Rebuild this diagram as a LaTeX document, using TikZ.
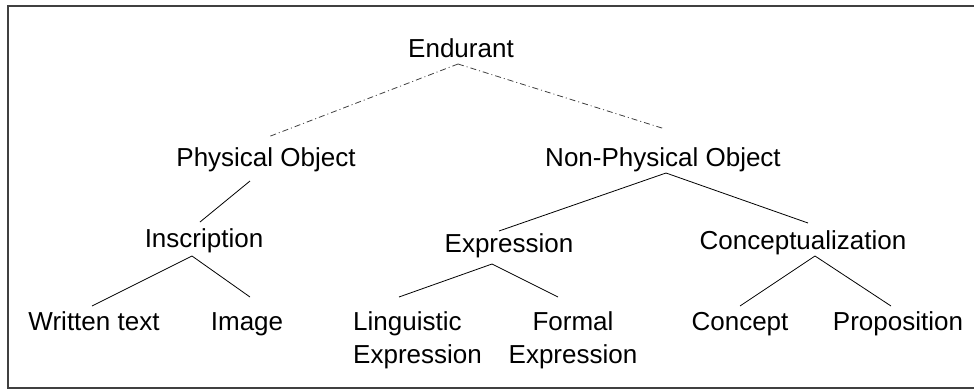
\documentclass[tikz,border=0pt]{standalone}
\usepackage{fontspec}
\setmainfont{Liberation Sans}
\begin{document}
\begin{tikzpicture}[x=1pt,y=-1pt,
  lbl/.style={inner sep=0pt, anchor=base, font=\fontsize{26}{33}\selectfont},
  edge/.style={line width=0.8pt, black},
  dd/.style={line width=0.8pt, black!75, dash pattern=on 6pt off 3pt on 1pt off 3pt}]
\useasboundingbox (0,0) rectangle (974,389);
\draw[line width=1.6pt, black!75] (8,6) rectangle (990,388);
% nodes
\node[lbl] (end) at (461,57) {Endurant};
\node[lbl] (po) at (266,166) {Physical Object};
\node[lbl] (npo) at (663,166) {Non-Physical Object};
\node[lbl] (ins) at (204,247) {Inscription};
\node[lbl] (expr) at (509,252) {Expression};
\node[lbl] (conc) at (803,249) {Conceptualization};
\node[lbl] (wt) at (94,330) {Written text};
\node[lbl] (img) at (247,330) {Image};
\node[lbl, anchor=base west, align=left] (ling) at (353,363) {Linguistic\\Expression};
\node[lbl, align=center] (formal) at (573,363) {Formal\\Expression};
\node[lbl] (concept) at (740,330) {Concept};
\node[lbl] (prop) at (898,330) {Proposition};
% connector endpoints
\coordinate (e-a) at (458,64);
\coordinate (po-t) at (268,137);
\coordinate (npo-t) at (665,129);
\coordinate (po-b) at (250,181);
\coordinate (ins-t) at (200,222);
\coordinate (ins-b) at (192,256);
\coordinate (wt-t) at (92,306);
\coordinate (img-t) at (250,297);
\coordinate (npo-b) at (666,173);
\coordinate (expr-t) at (499,231);
\coordinate (conc-t) at (808,223);
\coordinate (expr-b) at (492,264);
\coordinate (ling-t) at (399,297);
\coordinate (formal-t) at (558,297);
\coordinate (conc-b) at (815,256);
\coordinate (concept-t) at (740,306);
\coordinate (prop-t) at (891,306);
% connectors
\draw[dd] (e-a) -- (po-t);
\draw[dd] (e-a) -- (npo-t);
\draw[edge] (po-b) -- (ins-t);
\draw[edge] (ins-b) -- (wt-t);
\draw[edge] (ins-b) -- (img-t);
\draw[edge] (npo-b) -- (expr-t);
\draw[edge] (npo-b) -- (conc-t);
\draw[edge] (expr-b) -- (ling-t);
\draw[edge] (expr-b) -- (formal-t);
\draw[edge] (conc-b) -- (concept-t);
\draw[edge] (conc-b) -- (prop-t);
\end{tikzpicture}
\end{document}
